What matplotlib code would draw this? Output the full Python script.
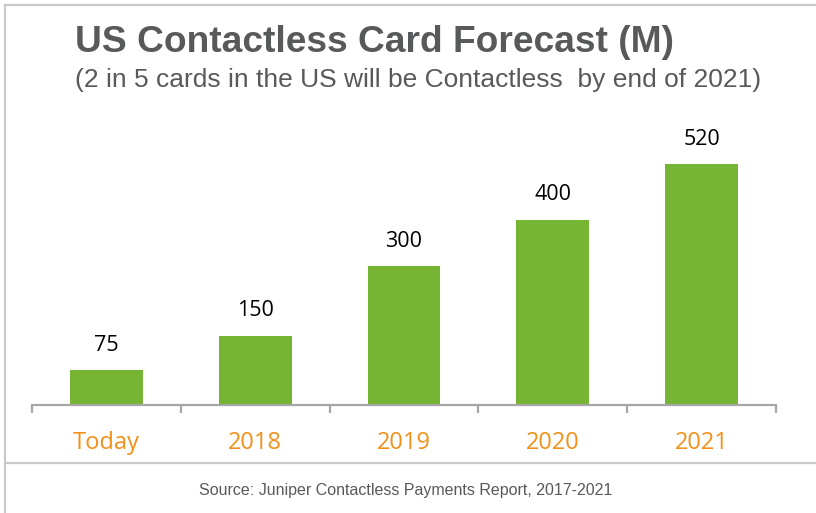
import matplotlib
matplotlib.use("Agg")
import matplotlib.pyplot as plt
from matplotlib.lines import Line2D

categories = ["Today", "2018", "2019", "2020", "2021"]
values = [75, 150, 300, 400, 520]

title = "US Contactless Card Forecast (M)"
subtitle = "(2 in 5 cards in the US will be Contactless  by end of 2021)"
source = "Source: Juniper Contactless Payments Report, 2017-2021"

W, H = 816, 513
fig = plt.figure(figsize=(W / 100, H / 100), dpi=100)

def fx(px):
    return px / W

def fy(py):
    return 1 - py / H

# frame lines
gray_frame = "#C9C9C9"
fig.add_artist(Line2D([fx(5), 1], [fy(5), fy(5)], color=gray_frame, lw=1.6, transform=fig.transFigure))
fig.add_artist(Line2D([fx(5), fx(5)], [fy(5), 0], color=gray_frame, lw=1.6, transform=fig.transFigure))
fig.add_artist(Line2D([fx(5), 1], [fy(463), fy(463)], color=gray_frame, lw=1.6, transform=fig.transFigure))

# axes
left, right, base, top = 32, 776, 405, 100
ax = fig.add_axes([fx(left), fy(base), fx(right - left), fy(top) - fy(base)])
ax.set_xlim(-0.5, len(categories) - 0.5)
ax.set_ylim(0, (base - top) / 0.463)

green = "#76B433"
orange = "#F39019"
x = list(range(len(categories)))
bars = ax.bar(x, values, width=0.49, color=green)

for xi, v in zip(x, values):
    ax.annotate(str(v), (xi, v), xytext=(0, 14), textcoords="offset points",
                ha="center", va="baseline", fontsize=15.5, color="black",
                family=["Open Sans", "DejaVu Sans"])

for s in ["top", "right", "left"]:
    ax.spines[s].set_visible(False)
ax.spines["bottom"].set_color("#A6A6A6")
ax.spines["bottom"].set_linewidth(1.6)
ax.set_yticks([])
ax.set_xticks(x)
ax.set_xticklabels(categories, fontsize=17, color=orange, family=["Open Sans", "DejaVu Sans"])
ax.tick_params(axis="x", which="major", length=0, pad=19)
ax.set_xticks([i - 0.5 for i in range(len(categories) + 1)], minor=True)
ax.tick_params(axis="x", which="minor", length=6, width=1.6, color="#A6A6A6")

# texts
fig.text(fx(75), fy(42), title, fontsize=26.7, fontweight="bold", color="#58595B",
         family=["Liberation Sans", "DejaVu Sans"], va="center", ha="left")
fig.text(fx(75), fy(80), subtitle, fontsize=19, color="#58595B",
         family=["Liberation Sans", "DejaVu Sans"], va="center", ha="left")
fig.text(fx(406), fy(491), source, fontsize=11.5, color="#595959",
         family=["Liberation Sans", "DejaVu Sans"], va="center", ha="center")

fig.savefig("out.png", dpi=100)
